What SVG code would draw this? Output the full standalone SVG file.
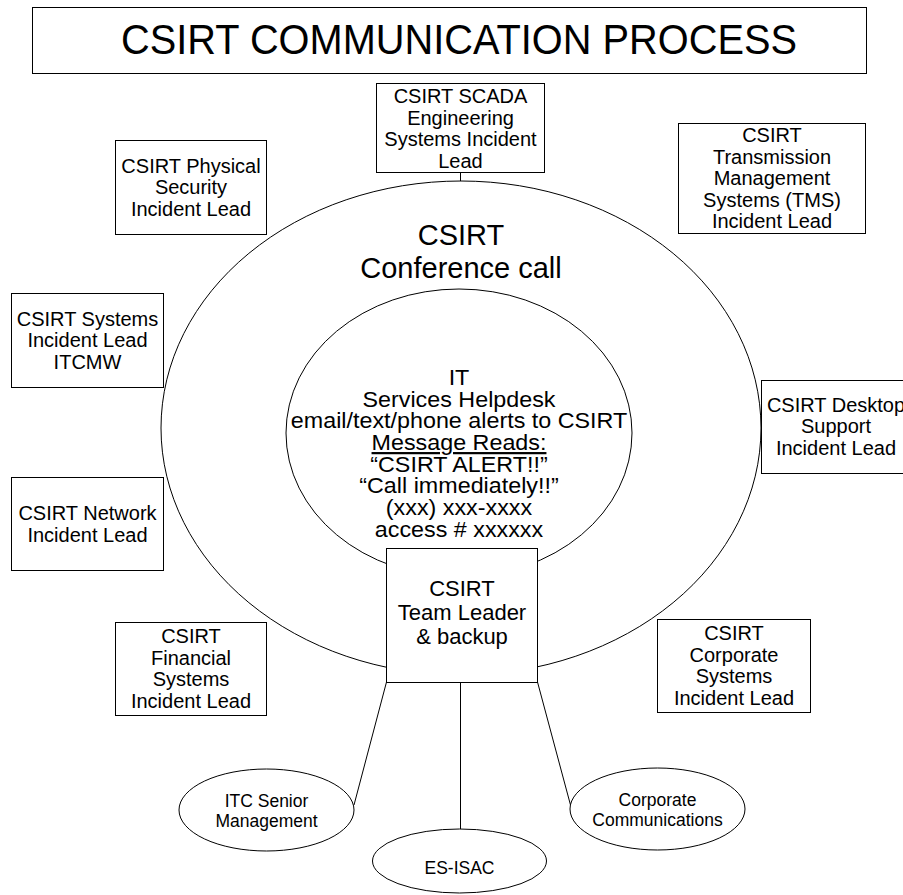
<svg xmlns="http://www.w3.org/2000/svg" width="903" height="895" viewBox="0 0 903 895">
<style>
  .bg { fill: #ffffff; }
  .box { fill: #ffffff; stroke: #000000; stroke-width: 1; }
  .ring { fill: none; stroke: #000000; stroke-width: 1; }
  .conn { fill: none; stroke: #000000; stroke-width: 1; }
  text { font-family: "Liberation Sans", Arial, sans-serif; fill: #000000; text-anchor: middle; }
  .t20 { font-size: 20px; }
  .t23 { font-size: 22px; }
  .t22 { font-size: 22px; }
  .t29 { font-size: 29px; }
  .t17 { font-size: 17.5px; }
  .title { font-size: 42px; }
</style>
<rect class="bg" x="0" y="0" width="903" height="895"/>

<g id="title">
  <rect class="box" x="32.5" y="7.5" width="834" height="66"/>
  <text class="title" x="459" y="54" textLength="676" lengthAdjust="spacingAndGlyphs">CSIRT COMMUNICATION PROCESS</text>
</g>

<g id="conference-call">
  <ellipse class="ring" cx="461" cy="428" rx="300" ry="247"/>
  <text class="t29" x="461" y="245">CSIRT</text>
  <text class="t29" x="461" y="278">Conference call</text>
</g>

<g id="helpdesk">
  <ellipse class="ring" cx="459" cy="433" rx="173" ry="144"/>
  <g transform="translate(459 0) scale(1.06 1) translate(-459 0)">
    <text class="t23" x="459" y="385">IT</text>
    <text class="t23" x="459" y="406.7">Services Helpdesk</text>
    <text class="t23" x="459" y="428.4">email/text/phone alerts to CSIRT</text>
    <text class="t23" x="459" y="450.1" text-decoration="underline">Message Reads:</text>
    <text class="t23" x="459" y="471.8">“CSIRT ALERT!!”</text>
    <text class="t23" x="459" y="493.5">“Call immediately!!”</text>
    <text class="t23" x="459" y="515.2">(xxx) xxx-xxxx</text>
    <text class="t23" x="459" y="537">access # xxxxxx</text>
  </g>
</g>

<g id="connectors">
  <line class="conn" x1="460.5" y1="173" x2="460.5" y2="181"/>
  <line class="conn" x1="386.5" y1="682" x2="354" y2="805"/>
  <line class="conn" x1="460.5" y1="682" x2="460.5" y2="829"/>
  <line class="conn" x1="537.5" y1="682" x2="570.5" y2="805"/>
</g>

<g id="scada">
  <rect class="box" x="376.5" y="83.5" width="168" height="89"/>
  <text class="t20" x="460.5" y="103">CSIRT SCADA</text>
  <text class="t20" x="460.5" y="124.5">Engineering</text>
  <text class="t20" x="460.5" y="146">Systems Incident</text>
  <text class="t20" x="460.5" y="167.5">Lead</text>
</g>

<g id="physical">
  <rect class="box" x="115.5" y="140.5" width="151" height="94"/>
  <text class="t20" x="191" y="172.5">CSIRT Physical</text>
  <text class="t20" x="191" y="194">Security</text>
  <text class="t20" x="191" y="215.5">Incident Lead</text>
</g>

<g id="tms">
  <rect class="box" x="678.5" y="123.5" width="187" height="110"/>
  <text class="t20" x="772" y="142">CSIRT</text>
  <text class="t20" x="772" y="163.5">Transmission</text>
  <text class="t20" x="772" y="185">Management</text>
  <text class="t20" x="772" y="206.5">Systems (TMS)</text>
  <text class="t20" x="772" y="228">Incident Lead</text>
</g>

<g id="systems">
  <rect class="box" x="11.5" y="293.5" width="152" height="94"/>
  <text class="t20" x="87.5" y="325.5">CSIRT Systems</text>
  <text class="t20" x="87.5" y="347">Incident Lead</text>
  <text class="t20" x="87.5" y="368.5">ITCMW</text>
</g>

<g id="desktop">
  <rect class="box" x="761.5" y="380.5" width="150" height="93"/>
  <text class="t20" x="836" y="411.5">CSIRT Desktop</text>
  <text class="t20" x="836" y="433">Support</text>
  <text class="t20" x="836" y="454.5">Incident Lead</text>
</g>

<g id="network">
  <rect class="box" x="11.5" y="477.5" width="152" height="93"/>
  <text class="t20" x="87.5" y="520">CSIRT Network</text>
  <text class="t20" x="87.5" y="541.5">Incident Lead</text>
</g>

<g id="financial">
  <rect class="box" x="115.5" y="622.5" width="151" height="93"/>
  <text class="t20" x="191" y="643">CSIRT</text>
  <text class="t20" x="191" y="664.5">Financial</text>
  <text class="t20" x="191" y="686">Systems</text>
  <text class="t20" x="191" y="707.5">Incident Lead</text>
</g>

<g id="corporate">
  <rect class="box" x="657.5" y="619.5" width="153" height="93"/>
  <text class="t20" x="734" y="640">CSIRT</text>
  <text class="t20" x="734" y="661.5">Corporate</text>
  <text class="t20" x="734" y="683">Systems</text>
  <text class="t20" x="734" y="704.5">Incident Lead</text>
</g>

<g id="team-leader">
  <rect class="box" x="386.5" y="548.5" width="151" height="134"/>
  <text class="t22" x="462" y="596">CSIRT</text>
  <text class="t22" x="462" y="620">Team Leader</text>
  <text class="t22" x="462" y="644">&amp; backup</text>
</g>

<g id="itc-senior">
  <ellipse class="box" cx="266.5" cy="810" rx="87.5" ry="41"/>
  <text class="t17" x="266.5" y="807">ITC Senior</text>
  <text class="t17" x="266.5" y="827">Management</text>
</g>

<g id="es-isac">
  <ellipse class="box" cx="459.5" cy="861" rx="87" ry="32"/>
  <text class="t17" x="459.5" y="874">ES-ISAC</text>
</g>

<g id="corp-comms">
  <ellipse class="box" cx="657.5" cy="809" rx="87.5" ry="41"/>
  <text class="t17" x="657.5" y="806">Corporate</text>
  <text class="t17" x="657.5" y="826">Communications</text>
</g>
</svg>
